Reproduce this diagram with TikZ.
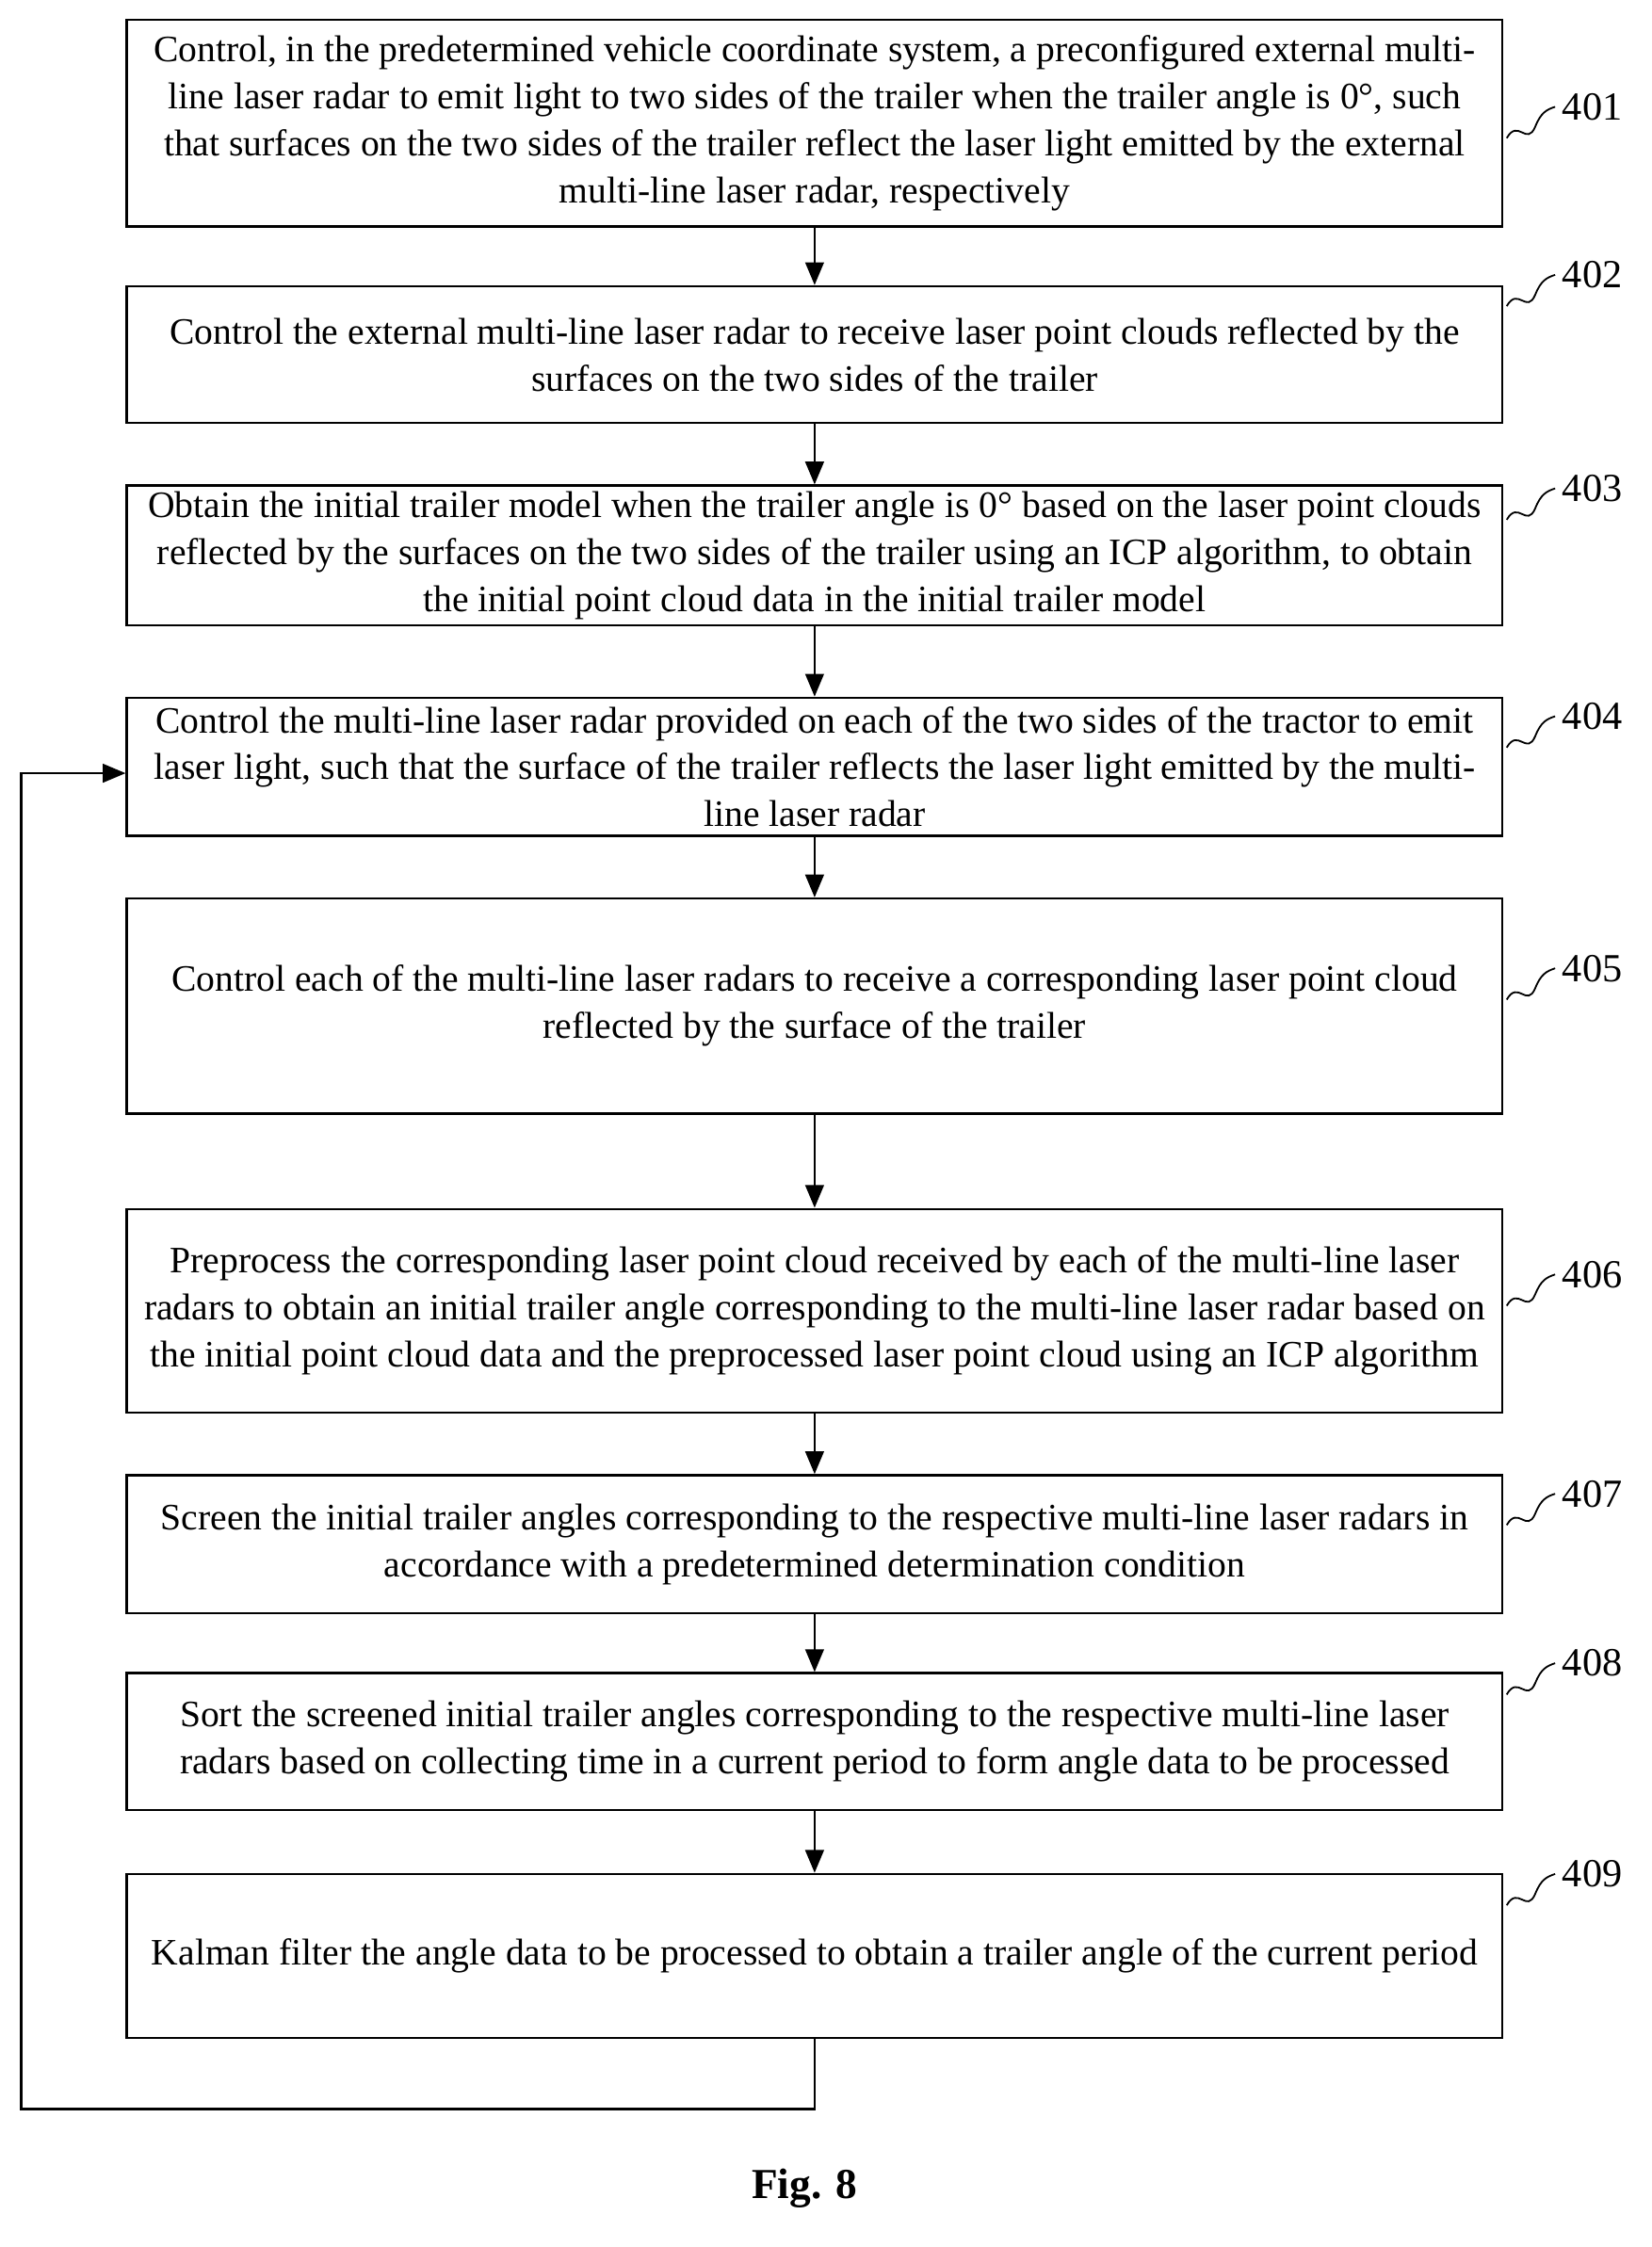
\documentclass[tikz,border=0pt]{standalone}
\usepackage{fontspec}
\usetikzlibrary{arrows.meta}
\setmainfont{Liberation Serif}
\begin{document}
\begin{tikzpicture}[x=0.5pt,y=-0.5pt,
  box/.style={draw,line width=0.8pt,inner sep=0pt},
  txt/.style={align=center,font=\fontsize{13.1}{16.5}\selectfont},
  arr/.style={-{Triangle[length=8pt,width=6.5pt]},line width=0.8pt},
  lab/.style={font=\fontsize{14}{16}\selectfont,anchor=west},
  sq/.style={line width=0.6pt}]
\useasboundingbox (0,0) rectangle (1160,1578);
\def\bx#1#2#3#4{\node[box,minimum width=966*0.5pt,minimum height={(#3-#2)*0.5pt}] (#1) at (572,{(#2+#3)/2}) {}; \node[txt] at (#1.center) {#4};}
\bx{b1}{14}{159}{Control, in the predetermined vehicle coordinate system, a preconfigured external multi-\\line laser radar to emit light to two sides of the trailer when the trailer angle is 0°, such\\that surfaces on the two sides of the trailer reflect the laser light emitted by the external\\multi-line laser radar, respectively}
\bx{b2}{201}{297}{Control the external multi-line laser radar to receive laser point clouds reflected by the\\surfaces on the two sides of the trailer}
\bx{b3}{341}{439}{Obtain the initial trailer model when the trailer angle is 0° based on the laser point clouds\\reflected by the surfaces on the two sides of the trailer using an ICP algorithm, to obtain\\the initial point cloud data in the initial trailer model}
\bx{b4}{490}{587}{Control the multi-line laser radar provided on each of the two sides of the tractor to emit\\laser light, such that the surface of the trailer reflects the laser light emitted by the multi-\\line laser radar}
\bx{b5}{631}{782}{Control each of the multi-line laser radars to receive a corresponding laser point cloud\\reflected by the surface of the trailer}
\bx{b6}{849}{992}{Preprocess the corresponding laser point cloud received by each of the multi-line laser\\radars to obtain an initial trailer angle corresponding to the multi-line laser radar based on\\the initial point cloud data and the preprocessed laser point cloud using an ICP algorithm}
\bx{b7}{1036}{1133}{Screen the initial trailer angles corresponding to the respective multi-line laser radars in\\accordance with a predetermined determination condition}
\bx{b8}{1175}{1271}{Sort the screened initial trailer angles corresponding to the respective multi-line laser\\radars based on collecting time in a current period to form angle data to be processed}
\bx{b9}{1316}{1431}{Kalman filter the angle data to be processed to obtain a trailer angle of the current period}
\foreach \a/\b in {b1/b2,b2/b3,b3/b4,b4/b5,b5/b6,b6/b7,b7/b8,b8/b9}
  \draw[arr] (\a.south) -- (\b.north);
\coordinate (c1) at (572,1481);
\coordinate (c2) at (15,1481);
\coordinate (c3) at (15,543);
\draw[arr] (b9.south) -- (c1) -- (c2) -- (c3) -- (b4.west|-c3);
\foreach \n/\y in {401/75,402/193,403/343,404/503,405/680,406/895,407/1049,408/1168,409/1316}{
  \draw[sq] (1058,\y+22) .. controls (1066,\y+8) and (1072,\y+28) .. (1078,\y+14) .. controls (1082,\y+4) and (1086,\y+2) .. (1092,\y);
  \node[lab] (l\n) at (1090,\y) {\n};}
\node[font=\fontsize{15}{16}\selectfont\bfseries] (fig) at (565,1537) {Fig. 8};
\end{tikzpicture}
\end{document}
